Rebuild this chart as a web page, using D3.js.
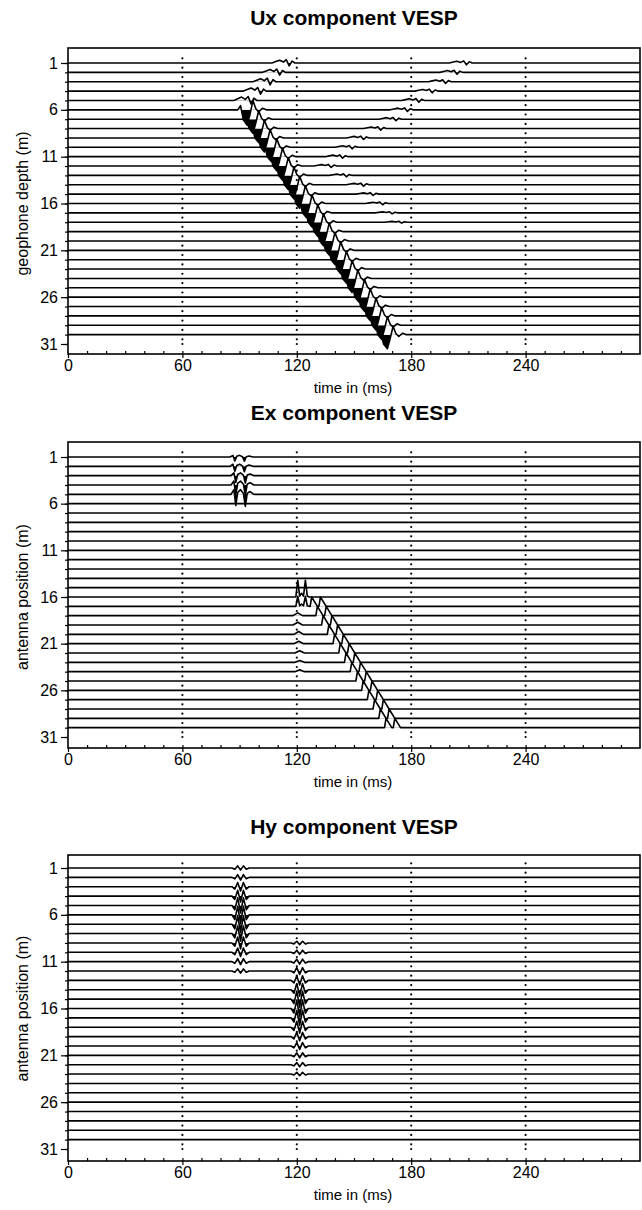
<!DOCTYPE html>
<html><head><meta charset="utf-8">
<script src="https://cdn.jsdelivr.net/npm/d3@7/dist/d3.min.js"></script>
<style>body{margin:0;background:#fff} text{font-family:"Liberation Sans",Arial,Helvetica,sans-serif;fill:#000}</style>
</head><body><svg id="c" width="642" height="1210"></svg>
<script>
// ---------- labels ----------
const panelTitles = ["Ux component VESP", "Ex component VESP", "Hy component VESP"];
const yAxisTitles = ["geophone depth (m)", "antenna position (m)", "antenna position (m)"];
const xAxisTitle = "time in (ms)";
const traceIds = d3.range(1, 31);            // traces 1..30 drawn
const yTickValues = [1, 6, 11, 16, 21, 26, 31];
const xTickValues = [0, 60, 120, 180, 240];
const gridTimes = [60, 120, 180, 240];
const timeMax = 300;

// ---------- wavelet shapes: [ms after arrival, amplitude in trace spacings, + = up] ----------
const waveUxSmall = [[0,0],[2,0.15],[4,0.3],[6,0.1],[7.5,0.35],[9,-0.3],[10.5,0.2],[12,0]];
const waveUxMain  = [[0,0],[1.5,0.4],[3,-1.0],[5,-1.5],[6.5,-0.4],[8,0.9],[9.5,0.1],[11,-0.2],[13,0.15],[15,0]];
const waveExA     = [[0,0],[1.5,0.5],[2.5,-1.2],[3.5,0.2],[5,0.5],[6.5,0.1],[7.5,-1.3],[8.5,0.1],[10,0.3],[12,0]];
const waveExTwin  = [[0,0],[1,1.8],[2,0.1],[3,0.4],[4,0.1],[5,1.8],[6,0.1],[7,0]];
const waveExRibbon= [[0,0],[0.8,1.0],[3.8,0],[4.6,0],[5.4,1.0],[8.4,0]];
const waveBump    = [[0,0],[2.5,1],[5,0]];
const waveHy      = [[0,0],[1.5,-0.25],[3,0.45],[4.5,-0.45],[6,0.45],[7.5,-0.25],[9,0]];

// ---------- events: [trace, arrival ms, amplitude] ----------
const uxUpgoing = [[1,107,1],[2,102,1],[3,97,1.1],[4,92,1.1],[5,87,1.2]];
const uxMain = [[6,89,1.1],[7,92,1],[8,95,1],[9,98,1],[10,101.5,1],[11,104.5,1],[12,107.5,1],[13,110.5,1],
  [14,113.5,1],[15,116.5,1],[16,120,1],[17,123,1],[18,126,1],[19,129,1],[20,132,1],[21,135,1],[22,138,1],
  [23,141,1],[24,144,1],[25,147.5,1],[26,150.5,1],[27,153.5,1],[28,156.5,1],[29,159.5,1],[30,162.5,1]];
const uxReflUp = [[1,200,0.65],[2,195,0.65],[3,189,0.6],[4,182,0.6],[5,175,0.6],[6,169,0.6],[7,163,0.55],
  [8,155,0.55],[9,146,0.55],[10,140,0.55],[11,135,0.55],[12,129,0.5]];
const uxReflDown = [[13,137,0.5],[14,146,0.5],[15,151,0.45],[16,156,0.45],[17,161,0.35],[18,166,0.3]];

const exEarly = [[1,85,0.35],[2,85,0.45],[3,85.5,0.6],[4,85.5,0.85],[5,85.5,1.0]];
const exTwin = [[16,119.5,1.0],[17,119.5,0.6]];
const exRibbon = [[17,127,1],[18,130,1],[19,133,1],[20,136,1],[21,139,1],[22,142,1],[23,145,1],
  [24,148,1],[25,151,1],[26,154,1],[27,157,1],[28,160,1],[29,163,1],[30,166,1]];
const exBumps = [[18,118,0.3],[19,118,0.3],[20,118.5,0.3],[21,118.5,0.25],[22,119,0.25],[23,119,0.2],[24,119,0.2]];

const hyEvent1 = [[1,86,0.5],[2,86,0.65],[3,86,1.0],[4,86,1.4],[5,86,1.8],[6,86,2.0],[7,86,2.0],[8,86,1.8],
  [9,86,1.4],[10,86,1.0],[11,86,0.7],[12,86,0.5]];
const hyEvent2 = [[9,117,0.4],[10,117,0.5],[11,117,0.6],[12,117,0.8],[13,117,1.1],[14,117,1.5],[15,117,1.9],
  [16,117,2.0],[17,117,1.8],[18,117,1.4],[19,117,1.0],[20,117,0.8],[21,117,0.6],[22,117,0.5],[23,117,0.4]];

const panelEvents = [
  [{wave: waveUxSmall, list: uxUpgoing}, {wave: waveUxMain, list: uxMain},
   {wave: waveUxSmall, list: uxReflUp}, {wave: waveUxSmall, list: uxReflDown}],
  [{wave: waveExA, list: exEarly}, {wave: waveExTwin, list: exTwin},
   {wave: waveExRibbon, list: exRibbon}, {wave: waveBump, list: exBumps}],
  [{wave: waveHy, list: hyEvent1}, {wave: waveHy, list: hyEvent2}]
];

// ---------- layout ----------
const layout = [
  {top: 48, first: 63, last: 344, bottom: 354, titleY: 25},
  {top: 442, first: 457, last: 737, bottom: 748, titleY: 420},
  {top: 855, first: 868, last: 1149, bottom: 1161, titleY: 834}
];
const svg = d3.select("#c");
const x = d3.scaleLinear().domain([0, timeMax]).range([68, 640]);
const defs = svg.append("defs");

layout.forEach((L, pi) => {
  const g = svg.append("g");
  const y = d3.scaleLinear().domain([1, 31]).range([L.first, L.last]);
  const sp = y(2) - y(1);

  g.append("text").attr("x", (x(0) + x(timeMax)) / 2).attr("y", L.titleY)
    .attr("text-anchor", "middle").style("font-size", "21px").style("font-weight", "bold")
    .text(panelTitles[pi]);
  g.append("text").attr("transform", `translate(22,${(L.first + L.last) / 2}) rotate(-90)`)
    .attr("text-anchor", "middle").attr("dominant-baseline", "central").style("font-size", "16px")
    .text(yAxisTitles[pi]);
  g.append("text").attr("x", 353).attr("y", L.bottom + 39)
    .attr("text-anchor", "middle").style("font-size", "15px").text(xAxisTitle);

  // gridline dots
  const dotLevels = d3.range(0.5, 31, 1).concat([31]);
  gridTimes.forEach(t => {
    g.append("g").selectAll("circle").data(dotLevels).join("circle")
      .attr("cx", x(t)).attr("cy", d => y(d)).attr("r", 1.1).attr("fill", "#000");
  });

  // traces
  const byTrace = new Map(traceIds.map(k => [k, []]));
  panelEvents[pi].forEach(grp => grp.list.forEach(([k, t, a]) => byTrace.get(k).push({t, a, wave: grp.wave})));
  traceIds.forEach(k => {
    const evs = byTrace.get(k).sort((p, q) => p.t - q.t);
    const pts = [[0, 0]];
    evs.forEach(e => e.wave.forEach(([dt, v]) => pts.push([e.t + dt, v * e.a])));
    pts.push([timeMax, 0]);
    const base = y(k);
    const id = `clip${pi}_${k}`;
    defs.append("clipPath").attr("id", id).append("rect")
      .attr("x", x(0)).attr("y", base).attr("width", x(timeMax) - x(0)).attr("height", 40);
    g.append("path").datum(pts)
      .attr("d", d3.area().x(d => x(d[0])).y0(base).y1(d => base - d[1] * sp))
      .attr("fill", "#000").attr("clip-path", `url(#${id})`);
    g.append("path").datum(pts)
      .attr("d", d3.line().x(d => x(d[0])).y(d => base - d[1] * sp))
      .attr("fill", "none").attr("stroke", "#000").attr("stroke-width", 1.6).attr("stroke-linejoin", "round");
  });

  // frame
  g.append("rect").attr("x", x(0)).attr("y", L.top).attr("width", x(timeMax) - x(0)).attr("height", L.bottom - L.top)
    .attr("fill", "none").attr("stroke", "#000").attr("stroke-width", 1.6);

  const yMinor = g.append("g").attr("transform", `translate(${x(0)},0)`)
    .call(d3.axisLeft(y).tickValues(d3.range(1, 32)).tickSize(3).tickFormat(""));
  const yMajor = g.append("g").attr("transform", `translate(${x(0)},0)`)
    .call(d3.axisLeft(y).tickValues(yTickValues).tickSize(7).tickPadding(3).tickFormat(d3.format("d")));
  const xMinor = g.append("g").attr("transform", `translate(0,${L.bottom})`)
    .call(d3.axisBottom(x).tickValues(d3.range(10, timeMax, 10)).tickSize(-3).tickFormat(""));
  const xMajor = g.append("g").attr("transform", `translate(0,${L.bottom})`)
    .call(d3.axisBottom(x).tickValues(xTickValues).tickSize(4).tickPadding(2).tickFormat(d3.format("d")));
  [yMinor, yMajor, xMinor, xMajor].forEach(a => {
    a.select(".domain").remove();
    a.selectAll("line").attr("stroke", "#000").attr("stroke-width", 1.2);
    a.selectAll("text").style("font-size", "16px").style("font-family", "Liberation Sans, Arial, sans-serif").attr("fill", "#000");
  });
});
</script></body></html>
